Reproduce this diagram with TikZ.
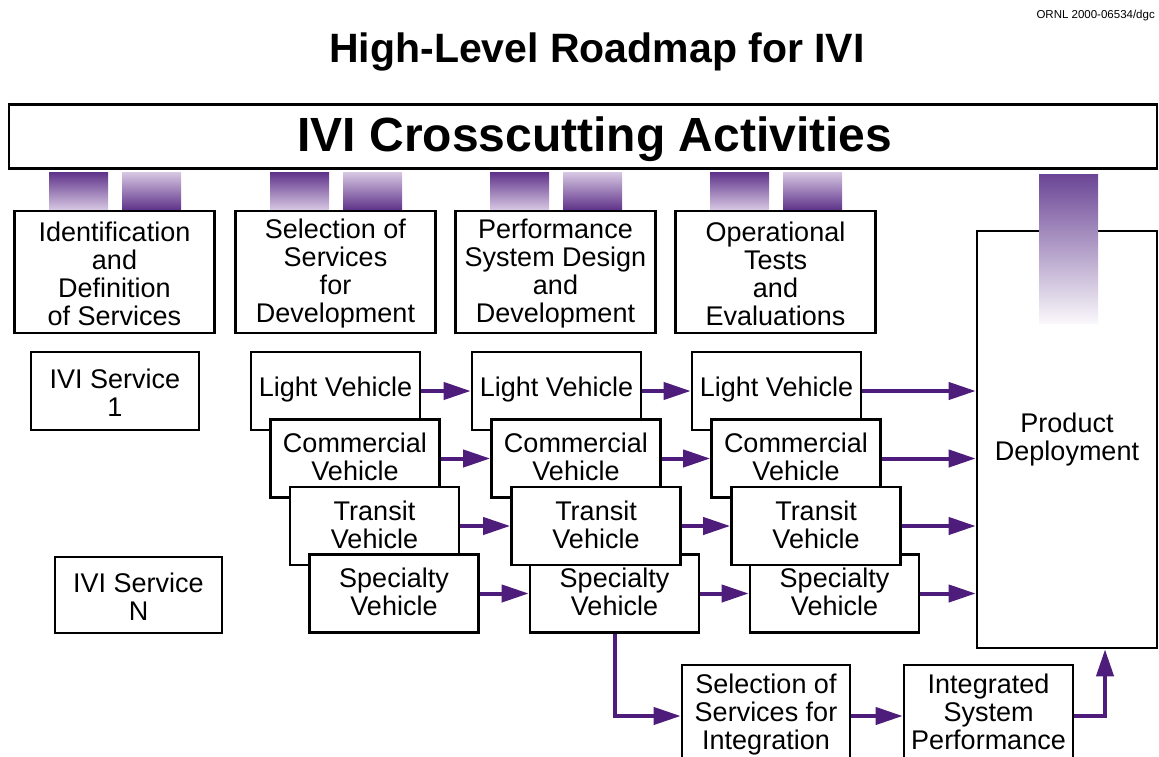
\documentclass[tikz,border=0pt]{standalone}
\usepackage{fontspec}
\setmainfont{Liberation Sans}
\usetikzlibrary{arrows.meta}
\definecolor{arrowpurple}{RGB}{78,28,122}
\definecolor{bardark}{RGB}{96,52,138}
\definecolor{barlight}{RGB}{214,198,226}
\definecolor{proddark}{RGB}{108,70,150}
\begin{document}
\begin{tikzpicture}[x=1pt,y=-1pt,
  box/.style={draw=black, line width=2.6pt, fill=white, inner sep=0pt, align=center, font=\fontsize{27}{28}\selectfont},
  vtxt/.style={inner sep=0pt, align=center, font=\fontsize{27}{28}\selectfont, yshift=1.5pt},
  veh/.style={box, minimum width=169pt, minimum height=78pt},
  colbox/.style={box, minimum width=200pt, minimum height=122pt},
  bardown/.style={inner sep=0pt, minimum width=59pt, minimum height=37pt, top color=bardark, bottom color=barlight, anchor=south},
  barup/.style={inner sep=0pt, minimum width=59pt, minimum height=37pt, top color=barlight, bottom color=bardark, anchor=south},
  flow/.style={draw=arrowpurple, line width=4pt, -{Triangle[length=27pt,width=17pt]}},
]
\path[use as bounding box] (0,0) rectangle (1159,757);
\clip (0,0) rectangle (1159,757);

% titles
\node[font=\fontsize{11.5}{13}\selectfont, anchor=base east, inner sep=0pt] (ornl) at (1155,19) {ORNL 2000-06534/dgc};
\node[font=\bfseries\fontsize{41}{44}\selectfont, anchor=base, inner sep=0pt] (title) at (597,63) {High-Level Roadmap for IVI};

\node[draw=black, line width=2.6pt, minimum width=1148pt, minimum height=64pt, inner sep=0pt] (cross) at (583,136.5) {};
\node[font=\bfseries\fontsize{48}{50}\selectfont, anchor=base, inner sep=0pt] (crosstxt) at (595,152) {IVI Crosscutting Activities};

% column header boxes
\node[colbox] (c1) at (114.5,272) {}; \node[vtxt, yshift=-3.5pt] (c1t) at (c1) {Identification\\and\\Definition\\of Services};
\node[colbox] (c2) at (335.5,272) {}; \node[vtxt, yshift=-3.5pt] (c2t) at (c2) {Selection of\\Services\\for\\Development};
\node[colbox] (c3) at (555.5,272) {}; \node[vtxt, yshift=-3.5pt] (c3t) at (c3) {Performance\\System Design\\and\\Development};
\node[colbox] (c4) at (775.5,272) {}; \node[vtxt, yshift=-3.5pt] (c4t) at (c4) {Operational\\Tests\\and\\Evaluations};

% gradient bars
\foreach \c in {c1,c2,c3,c4}{
  \node[bardown] (\c a) at ([xshift=-36pt]\c.north) {};
  \node[barup] (\c b) at ([xshift=37pt]\c.north) {};
}

% services
\node[box, minimum width=168pt, minimum height=78pt] (s1) at (115,391) {}; \node[vtxt, yshift=-3.5pt] (s1t) at (s1) {IVI Service\\1};
\node[box, minimum width=167pt, minimum height=76pt] (sn) at (138.5,595) {}; \node[vtxt, yshift=-3.5pt] (snt) at (sn) {IVI Service\\N};

% column 2 vehicles
\node[veh] (lv2) at (335.5,391) {}; \node[vtxt] (lv2t) at (lv2) {Light Vehicle};
\node[veh] (cv2) at (355,458.5) {}; \node[vtxt] (cv2t) at (cv2) {Commercial\\Vehicle};
\node[veh] (tv2) at (374.5,526) {}; \node[vtxt] (tv2t) at (tv2) {Transit\\Vehicle};
\node[veh] (sv2) at (394,593.5) {}; \node[vtxt] (sv2t) at (sv2) {Specialty\\Vehicle};

% column 3 vehicles
\node[veh] (lv3) at (556.5,391) {}; \node[vtxt] (lv3t) at (lv3) {Light Vehicle};
\node[veh] (cv3) at (576,458.5) {}; \node[vtxt] (cv3t) at (cv3) {Commercial\\Vehicle};
\node[veh] (sv3) at (614.5,593.5) {}; \node[vtxt] (sv3t) at (sv3) {Specialty\\Vehicle};
\node[veh] (tv3) at (596,526) {}; \node[vtxt] (tv3t) at (tv3) {Transit\\Vehicle};

% column 4 vehicles
\node[veh] (lv4) at (776.5,391) {}; \node[vtxt] (lv4t) at (lv4) {Light Vehicle};
\node[veh] (cv4) at (796,458.5) {}; \node[vtxt] (cv4t) at (cv4) {Commercial\\Vehicle};
\node[veh] (sv4) at (834.5,593.5) {}; \node[vtxt] (sv4t) at (sv4) {Specialty\\Vehicle};
\node[veh] (tv4) at (816,526) {}; \node[vtxt] (tv4t) at (tv4) {Transit\\Vehicle};

% product deployment
\node[box, minimum width=180pt, minimum height=417pt] (prod) at (1067,439.5) {Product\\Deployment};
\node[inner sep=0pt, minimum width=59pt, minimum height=149pt, top color=proddark, bottom color=white!96!proddark, anchor=north] (pbar) at (1068.5,174) {};

% bottom boxes
\node[box, minimum width=168pt, minimum height=102pt] (sel) at (766,716) {}; \node[vtxt] (selt) at (sel) {Selection of\\Services for\\Integration};
\node[box, minimum width=169pt, minimum height=102pt] (intg) at (988.5,716) {}; \node[vtxt, yshift=3pt] (intgt) at (intg) {Integrated\\System\\Performance};
\coordinate (up) at ([xshift=38pt]prod.south);

% connectors
\draw[flow] (lv2.east) -- (lv3.west);
\draw[flow] (cv2.east) -- (cv3.west);
\draw[flow] (tv2.east) -- (tv3.west);
\draw[flow] (sv2.east) -- (sv3.west);
\draw[flow] (lv3.east) -- (lv4.west);
\draw[flow] (cv3.east) -- (cv4.west);
\draw[flow] (tv3.east) -- (tv4.west);
\draw[flow] (sv3.east) -- (sv4.west);
\draw[flow] (lv4.east) -- (lv4.east -| prod.west);
\draw[flow] (cv4.east) -- (cv4.east -| prod.west);
\draw[flow] (tv4.east) -- (tv4.east -| prod.west);
\draw[flow] (sv4.east) -- (sv4.east -| prod.west);
\draw[flow] (sv3.south) |- (sel.west);
\draw[flow] (sel.east) -- (intg.west);
\draw[flow] (intg.east) -| (up);
\end{tikzpicture}
\end{document}
